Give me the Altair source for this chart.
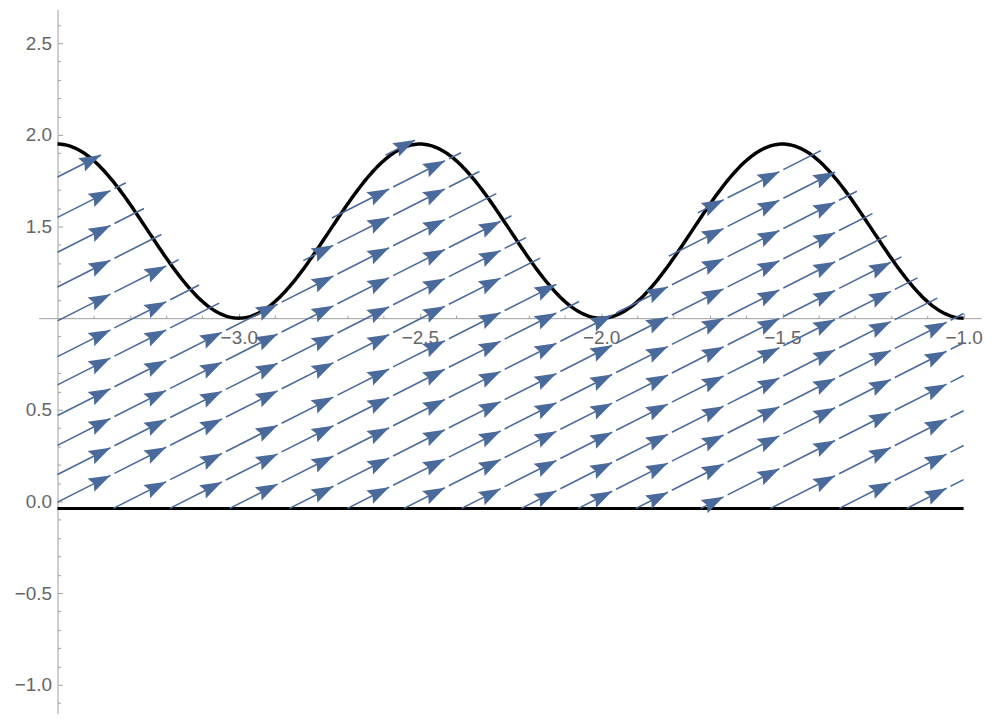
import math
import numpy as np
import pandas as pd
import altair as alt

# ---------------- values ----------------
x_min, x_max = -3.5, -1.0            # horizontal extent of the stream region
floor_y = -0.038                     # lower boundary (black horizontal line)
curve_base, curve_peak = 1.0, 1.95   # wave minimum / maximum
wave_period = 1.0                    # distance between wave peaks
field = (1.0, 1.0)                   # constant vector field (vx, vy)

# streamline seeds: heights where lines cross the left edge x=-3.5,
# and x positions where lines leave the bottom boundary
left_seed_y = [-0.004, 0.147, 0.306, 0.469, 0.636, 0.790, 0.985, 1.17, 1.36, 1.55, 1.77]
bottom_seed_x = [-3.346, -3.19, -3.025, -2.86, -2.70, -2.544, -2.385, -2.22,
                 -2.063, -1.904, -1.725, -1.533, -1.343, -1.157]

# arrowheads sit in columns
arrow_first_tip_x = -3.354
arrow_step_x = 0.1538

x_label_values = [-3.0, -2.5, -2.0, -1.5, -1.0]
y_label_values = [-1.0, -0.5, 0.0, 0.5, 1.5, 2.0, 2.5]
x_tick_values = [round(-3.4 + 0.1 * i, 1) for i in range(25)]
y_tick_values = [round(-1.1 + 0.1 * i, 1) for i in range(38)]

# ---------------- layout / style ----------------
W, H = 946, 707
x_domain = [-3.552, -0.952]
y_domain = [-1.158, 2.685]
axis_origin = (-3.5, 1.0)
blue = "#4a6a9b"
axis_gray = "#a0a0a0"
label_gray = "#666666"
font = "Liberation Sans"
tol_y = 0.012
overshoot = 0.02
min_lead = 0.055
gap = 0.011

kx = W / (x_domain[1] - x_domain[0])
ky = H / (y_domain[1] - y_domain[0])
slope = field[1] / field[0]
arrow_angle = (360 - math.degrees(math.atan2(slope * ky, kx))) % 360


def wave(x):
    return curve_base + (curve_peak - curve_base) * np.sin(np.pi * np.asarray(x) / wave_period) ** 2


# ---------------- streamlines clipped to the region ----------------
intercepts = [y - slope * x_min for y in left_seed_y] + [floor_y - slope * x for x in bottom_seed_x]
xs = np.linspace(x_min, x_max, 5001)
tips_all = arrow_first_tip_x + arrow_step_x * np.arange(40)
tips_all = tips_all[tips_all <= x_max + 1e-9]

seg_rows, arrow_rows = [], []
for c in intercepts:
    ys = slope * xs + c
    inside = (ys >= floor_y - 1e-9) & (ys <= wave(xs) + tol_y)
    edges = np.flatnonzero(np.diff(np.concatenate([[0], inside.astype(int), [0]])))
    for s, e in zip(edges[0::2], edges[1::2] - 1):
        a, b = xs[s], xs[e]
        if b - a < 0.01:
            continue
        if a > x_min + 1e-6 and ys[s] > floor_y + 1e-3:
            a = a - overshoot
        if b < x_max - 1e-6:
            b = min(b + overshoot, x_max)
        tips = [t for t in tips_all if a + min_lead <= t <= b + 1e-9]
        if not tips and b - a >= min_lead:
            tips = [b]
        start = a
        for t in tips:
            seg_rows.append({"x": start, "y": slope * start + c, "x2": t, "y2": slope * t + c})
            arrow_rows.append({"x": t, "y": slope * t + c})
            start = t + gap
        if b - start > 0.005:
            seg_rows.append({"x": start, "y": slope * start + c, "x2": b, "y2": slope * b + c})

seg_df = pd.DataFrame(seg_rows)
arrow_df = pd.DataFrame(arrow_rows)

cx = np.linspace(x_min, x_max, 501)
curve_df = pd.DataFrame({"x": cx, "y": wave(cx)})
floor_df = pd.DataFrame({"x": [x_min], "x2": [x_max], "y": [floor_y]})

xsc = alt.Scale(domain=x_domain, nice=False, zero=False)
ysc = alt.Scale(domain=y_domain, nice=False, zero=False)

origin_px_x = (axis_origin[0] - x_domain[0]) * kx
origin_px_y = (y_domain[1] - axis_origin[1]) * ky

major_test = "abs(round(datum.value * 10)) % 5 == 0"

x_tick_axis = alt.Axis(
    orient="top", offset=-origin_px_y, values=x_tick_values, labels=False,
    domain=True, domainColor=axis_gray, domainWidth=1, ticks=True,
    tickColor=axis_gray, tickWidth=1, grid=False,
    tickSize={"condition": {"test": major_test, "value": 5}, "value": 3},
)
y_tick_axis = alt.Axis(
    orient="right", offset=origin_px_x - W, values=y_tick_values, labels=False,
    domain=True, domainColor=axis_gray, domainWidth=1, ticks=True,
    tickColor=axis_gray, tickWidth=1, grid=False,
    tickSize={"condition": {"test": major_test, "value": 5}, "value": 3},
)
x_label_axis = alt.Axis(
    orient="bottom", offset=origin_px_y - H, values=x_label_values, format=".1f",
    domain=False, ticks=False, tickSize=0, grid=False, labelPadding=10,
    labelFont=font, labelFontSize=19, labelColor=label_gray, labelFlush=False,
    labelOverlap=False,
)
y_label_axis = alt.Axis(
    orient="left", offset=-origin_px_x, values=y_label_values, format=".1f",
    domain=False, ticks=False, tickSize=0, grid=False, labelPadding=6,
    labelFont=font, labelFontSize=19, labelColor=label_gray, labelFlush=False,
    labelOverlap=False,
)

curve = alt.Chart(curve_df).mark_line(color="black", strokeWidth=3.5).encode(
    x=alt.X("x:Q", scale=xsc, axis=x_tick_axis, title=None),
    y=alt.Y("y:Q", scale=ysc, axis=y_tick_axis, title=None),
    order="x:Q",
)
floor = alt.Chart(floor_df).mark_rule(color="black", strokeWidth=3).encode(
    x=alt.X("x:Q", scale=xsc, axis=x_label_axis, title=None),
    x2="x2:Q",
    y=alt.Y("y:Q", scale=ysc, axis=y_label_axis, title=None),
)
streams = alt.Chart(seg_df).mark_rule(color=blue, strokeWidth=1.6).encode(
    x=alt.X("x:Q", scale=xsc, axis=None),
    y=alt.Y("y:Q", scale=ysc, axis=None),
    x2="x2:Q",
    y2="y2:Q",
)
arrow_path = "M 0 0 L -2 -0.68 L -1.7 0 L -2 0.68 Z"
arrows = alt.Chart(arrow_df).mark_point(
    shape=arrow_path, filled=True, size=480, angle=arrow_angle,
    color=blue, opacity=1, strokeWidth=0,
).encode(
    x=alt.X("x:Q", scale=xsc, axis=None),
    y=alt.Y("y:Q", scale=ysc, axis=None),
)

chart = alt.layer(curve, floor, streams, arrows).resolve_axis(
    x="independent", y="independent"
).properties(
    width=W, height=H,
    autosize=alt.AutoSizeParams(type="none"),
    padding={"left": 30.8, "top": 0, "right": 5, "bottom": 0},
).configure_view(stroke=None)

chart.save("out.html", embed_options={"renderer": "svg", "actions": False})
